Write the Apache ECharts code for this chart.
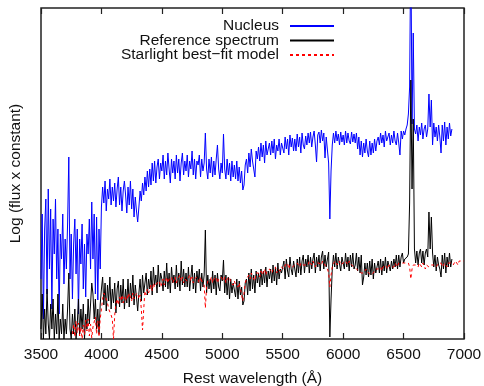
<!--
    Nucleus vs reference spectrum, Starlight fit
-->
<meta charset="UTF-8">

<!--echarts-->
<script src="https://cdn.jsdelivr.net/npm/echarts@6/dist/echarts.min.js"></script>

<style>
    html, body { margin: 0; padding: 0; background: #fff; }
</style>

<div id="spectrum" style="width:484px;height:386px;background-color:#fff;overflow:hidden;"></div>

<script>
    /*wavelength grid (Angstrom), 10 A step*/
    var specStart = 3500;
    var modelStart = 3760;
    var waveStep = 10;
    var xTicks = [3500, 4000, 4500, 5000, 5500, 6000, 6500, 7000];

    /*Nucleus (log flux, arbitrary offset units) 3500..6900*/
    var nucleusFlux = [
        60, 125, 20, 110, 140, 45, 150, 70, 130, 30,
        120, 85, 140, 60, 110, 25, 105, 80, 125, 55,
        100, 70, 115, 182, 60, 105, 40, 95, 120, 65,
        110, 25, 100, 75, 115, 50, 95, 42, 105, 85,
        120, 70, 137, 80, 125, 45, 122, 39, 110, 70,
        132, 152, 136, 158, 128, 150, 140, 160, 134, 152,
        138, 156, 132, 150, 162, 134, 152, 128, 148, 158,
        144, 126, 152, 134, 158, 130, 150, 122, 142, 128,
        117, 132, 148, 138, 156, 144, 162, 148, 168, 152,
        170, 154, 176, 158, 178, 156, 172, 180, 160, 176,
        168, 184, 160, 178, 164, 186, 170, 156, 180, 166,
        178, 160, 184, 166, 180, 158, 176, 186, 164, 178,
        168, 184, 162, 178, 170, 188, 164, 180, 160, 178,
        174, 184, 162, 180, 168, 176, 206, 170, 160, 180,
        166, 182, 162, 178, 164, 180, 194, 170, 160, 176,
        166, 205, 170, 160, 180, 164, 176, 158, 178, 162,
        174, 160, 178, 158, 172, 156, 168, 149, 154, 174,
        180, 166, 186, 172, 190, 178, 180, 162, 188, 180,
        192, 178, 196, 182, 194, 176, 198, 184, 182, 196,
        184, 198, 186, 200, 180, 194, 188, 200, 184, 196,
        198, 186, 202, 190, 200, 184, 204, 192, 201, 188,
        200, 188, 205, 192, 202, 186, 206, 194, 190, 203,
        194, 206, 196, 207, 192, 202, 208, 194, 177, 204,
        207, 196, 209, 198, 206, 181, 202, 204, 176, 120,
        168, 194, 206, 196, 208, 198, 205, 194, 207, 197,
        204, 194, 208, 196, 206, 198, 195, 207, 197, 205,
        196, 206, 190, 202, 184, 198, 182, 196, 186, 200,
        188, 182, 198, 184, 196, 186, 200, 188, 198, 202,
        194, 206, 196, 204, 192, 208, 198, 196, 206, 194,
        204, 196, 208, 198, 194, 206, 196, 184, 208, 200,
        208, 204, 210, 214, 225, 252, 400, 215, 306, 210,
        205, 214, 198, 212, 204, 216, 200, 210, 214, 202,
        210, 245, 212, 239, 194, 216, 202, 212, 198, 214,
        202, 186, 214, 198, 217, 194, 212, 200, 216, 203,
        210
    ];

    /*Reference spectrum 3500..6900*/
    var referenceFlux = [
        10, 45, 0, 30, 5, 50, 15, 0, 35, 10,
        40, 0, 25, 5, 45, 0, 20, 5, 35, 0,
        20, 5, 30, 66, 10, 0, 25, 5, 30, 0,
        15, 40, 5, 30, 10, 35, 0, 25, 10, 40,
        15, 35, 56, 45, 20, 40, 10, 30, 5, 35,
        50, 62, 34, 56, 28, 54, 38, 62, 30, 50,
        36, 56, 26, 50, 58, 32, 54, 36, 60, 30,
        50, 36, 60, 32, 56, 40, 64, 34, 54, 42,
        28, 46, 60, 38, 64, 46, 56, 66, 44, 60,
        50, 68, 44, 72, 54, 64, 46, 74, 52, 66,
        60, 48, 68, 52, 76, 50, 66, 46, 72, 56,
        64, 50, 74, 52, 66, 48, 78, 54, 70, 52,
        66, 52, 72, 48, 62, 74, 50, 66, 46, 68,
        56, 70, 48, 66, 52, 64, 109, 46, 64, 50,
        60, 46, 68, 50, 64, 44, 66, 52, 48, 64,
        58, 79, 46, 64, 44, 62, 40, 60, 46, 56,
        54, 42, 60, 40, 58, 44, 52, 34, 38, 56,
        60, 44, 66, 48, 70, 50, 64, 46, 68, 56,
        66, 52, 70, 54, 68, 56, 72, 52, 68, 60,
        70, 56, 74, 58, 72, 54, 76, 60, 70, 66,
        64, 78, 60, 80, 68, 62, 82, 70, 64, 78,
        76, 62, 80, 66, 82, 64, 78, 84, 66, 80,
        72, 84, 66, 82, 70, 80, 86, 66, 82, 72,
        84, 68, 82, 88, 70, 84, 72, 80, 87, 2,
        40, 70, 84, 72, 86, 70, 82, 84, 68, 82,
        84, 70, 86, 72, 82, 68, 84, 72, 86, 70,
        74, 86, 68, 82, 66, 84, 54, 62, 76, 64,
        76, 62, 78, 64, 80, 60, 76, 66, 72, 78,
        66, 80, 64, 78, 68, 82, 66, 78, 80, 68,
        78, 70, 80, 72, 84, 70, 84, 72, 82, 86,
        76, 80, 78, 82, 85, 136, 259, 150, 220, 90,
        76, 88, 74, 86, 90, 76, 88, 74, 86, 90,
        82, 127, 90, 122, 86, 72, 84, 68, 82, 74,
        70, 62, 84, 70, 86, 66, 82, 72, 86, 72,
        80
    ];

    /*Starlight best-fit model 3760..7000*/
    var modelFlux = [
        5, 15, 2, 18,
        6, 16, 3, 12, 0, 14, 4, 19, 8, 20,
        3, 15, 1, 12, 10, 22, 5, 18, 2, 20,
        30, 40, 46, 44, 40, 36, 30, 28, 24, 20,
        0, 24, 36, 40, 34, 42, 38, 44, 36, 42,
        38, 44, 40, 46, 42, 38, 46, 40, 44, 42,
        46, 40, 44, 30, 9, 30, 48, 44, 50, 46,
        50, 54, 48, 56, 52, 50, 56, 54, 58, 52,
        56, 60, 54, 58, 62, 56, 60, 58, 62, 56,
        58, 62, 56, 60, 58, 64, 58, 62, 56, 60,
        62, 58, 60, 64, 58, 62, 56, 60, 58, 62,
        60, 56, 62, 58, 60, 54, 31, 52, 58, 56,
        58, 62, 56, 60, 58, 62, 56, 60, 58, 62,
        60, 58, 62, 56, 60, 58, 62, 56, 58, 54,
        58, 54, 56, 52, 56, 50, 48, 38, 46, 56,
        60, 58, 64, 60, 66, 62, 64, 58, 66, 64,
        66, 62, 68, 64, 66, 70, 64, 68, 66, 70,
        68, 66, 70, 68, 72, 66, 70, 72, 68, 72,
        72, 70, 74, 72, 76, 70, 74, 76, 72, 74,
        74, 72, 76, 74, 72, 76, 78, 74, 76, 74,
        76, 74, 78, 76, 74, 78, 76, 72, 76, 78,
        76, 78, 74, 78, 76, 74, 72, 70, 66, 52,
        64, 72, 76, 74, 78, 74, 76, 78, 74, 76,
        76, 74, 78, 76, 74, 78, 76, 74, 76, 72,
        74, 70, 72, 68, 70, 66, 64, 66, 68, 70,
        70, 66, 68, 64, 62, 66, 68, 70, 68, 70,
        70, 72, 68, 72, 70, 74, 72, 70, 74, 72,
        72, 74, 72, 76, 74, 72, 76, 74, 76, 74,
        76, 74, 76, 78, 76, 72, 60, 70, 74, 76,
        74, 76, 72, 76, 74, 72, 76, 74, 70, 74,
        76, 72, 70, 74, 72, 74, 76, 72, 74, 76,
        74, 76, 72, 74, 76, 74, 72, 76, 74, 76,
        76, 74, 76, 78, 76, 74, 78, 76, 78, 76,
        78
    ];

    /*pair up wavelength grid with flux values*/
    var toPairs = function (start, values) {
        return values.map(function (v, i) {
            return [start + i * waveStep, v];
        });
    };

    var chart = function () {
        var spectrumChart = echarts.init(document.getElementById('spectrum'), null, {renderer: 'canvas'});
        var font = 'Liberation Sans, Arial, Helvetica, sans-serif';
        var spectrumOption = {
            animation: false,
            backgroundColor: '#fff',
            grid: {
                left: 41,
                right: 20,
                top: 8,
                bottom: 47,
                outerBoundsMode: 'none',
                containLabel: false,
                show: true,
                borderColor: '#222',
                borderWidth: 1.5,
                backgroundColor: 'transparent'
            },
            legend: {
                data: ['Nucleus', 'Reference spectrum', 'Starlight best\u2212fit model'],
                orient: 'vertical',
                align: 'right',
                right: 144,
                top: 13,
                itemWidth: 44,
                itemHeight: 10,
                itemGap: -1.5,
                selectedMode: false,
                itemStyle: {opacity: 0},
                textStyle: {
                    fontFamily: font,
                    fontSize: 15.5,
                    lineHeight: 15,
                    color: '#111',
                    padding: [0, 6, 0, 0]
                }
            },
            xAxis: [{
                type: 'value',
                min: xTicks[0],
                max: xTicks[xTicks.length - 1],
                interval: 500,
                name: 'Rest wavelength (\u00c5)',
                nameLocation: 'middle',
                nameGap: 32,
                nameTextStyle: {fontFamily: font, fontSize: 15.5, color: '#111'},
                axisLine: {show: false},
                axisTick: {inside: true, length: 6, lineStyle: {color: '#222', width: 1.2}},
                axisLabel: {
                    margin: 8,
                    fontFamily: font,
                    fontSize: 15.5,
                    color: '#111',
                    formatter: function (v) { return String(v); }
                },
                splitLine: {show: false}
            }, {
                type: 'value',
                position: 'top',
                min: xTicks[0],
                max: xTicks[xTicks.length - 1],
                interval: 500,
                axisLine: {show: false},
                axisTick: {inside: true, length: 6, lineStyle: {color: '#222', width: 1.2}},
                axisLabel: {show: false},
                splitLine: {show: false}
            }],
            yAxis: {
                type: 'value',
                min: 0,
                max: 331,
                name: 'Log (flux x constant)',
                nameLocation: 'middle',
                nameRotate: 90,
                nameGap: 17,
                nameTextStyle: {fontFamily: font, fontSize: 15.5, color: '#111'},
                axisLine: {show: false},
                axisTick: {show: false},
                axisLabel: {show: false},
                splitLine: {show: false}
            },
            series: [{
                name: 'Nucleus',
                type: 'line',
                data: toPairs(specStart, nucleusFlux),
                symbol: 'none',
                clip: true,
                lineStyle: {color: '#0000ff', width: 1},
                itemStyle: {color: '#0000ff'}
            }, {
                name: 'Reference spectrum',
                type: 'line',
                data: toPairs(specStart, referenceFlux),
                symbol: 'none',
                clip: true,
                lineStyle: {color: '#000', width: 1},
                itemStyle: {color: '#000'}
            }, {
                name: 'Starlight best\u2212fit model',
                type: 'line',
                data: toPairs(modelStart, modelFlux),
                symbol: 'none',
                clip: true,
                lineStyle: {color: '#ff0000', width: 1, type: [3, 3]},
                itemStyle: {color: '#ff0000'}
            }]
        };
        spectrumChart.setOption(spectrumOption);

        window.addEventListener("resize", function () {
            spectrumChart.resize();
        });
    };

    chart();
</script>
